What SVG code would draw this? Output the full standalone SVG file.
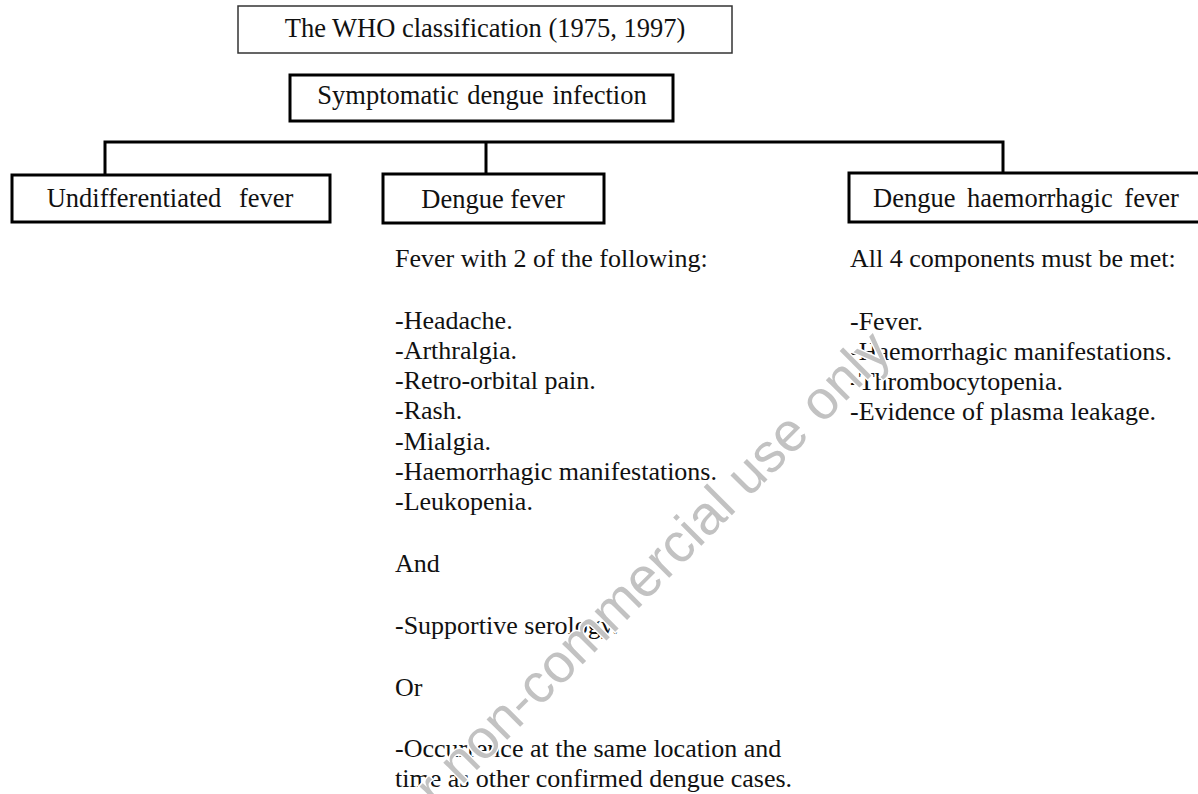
<svg xmlns="http://www.w3.org/2000/svg" width="1198" height="794" viewBox="0 0 1198 794">
<style>
.t{font-family:"Liberation Serif","Times New Roman",serif;font-size:26px;fill:#111}
.b{font-size:26.5px}
.c{text-anchor:middle}
.box{fill:#fff;stroke:#000;stroke-width:3}
.thin{fill:#fff;stroke:#333;stroke-width:1.5}
.wm{font-family:"Liberation Sans",Arial,sans-serif;font-size:55px;fill:#c2c2c2;stroke:#fff;stroke-width:3;paint-order:stroke}
</style>
<rect width="1198" height="794" fill="#fff"/>
<g id="connectors" fill="none" stroke="#000" stroke-width="3">
<path d="M105 175 V142 H1003 V173"/>
<path d="M486 142 V174"/>
</g>
<g id="who">
<rect class="thin" x="238" y="6" width="494" height="47"/>
<text class="t b c" x="485" y="37">The WHO classification (1975, 1997)</text>
</g>
<g id="symptomatic">
<rect class="box" x="290" y="75" width="383" height="46"/>
<text class="t b c" x="482" y="104" word-spacing="2">Symptomatic dengue infection</text>
</g>
<g id="undiff">
<rect class="box" x="12" y="175" width="318" height="47"/>
<text class="t b c" x="170" y="207" word-spacing="11">Undifferentiated fever</text>
</g>
<g id="df">
<rect class="box" x="383" y="174" width="221" height="49"/>
<text class="t b c" x="493" y="208">Dengue fever</text>
<text class="t" x="395" y="267">Fever with 2 of the following:</text>
<text class="t" x="395" y="329">-Headache.</text>
<text class="t" x="395" y="359">-Arthralgia.</text>
<text class="t" x="395" y="389">-Retro-orbital pain.</text>
<text class="t" x="395" y="419">-Rash.</text>
<text class="t" x="395" y="450">-Mialgia.</text>
<text class="t" x="395" y="480">-Haemorrhagic manifestations.</text>
<text class="t" x="395" y="510">-Leukopenia.</text>
<text class="t" x="395" y="572">And</text>
<text class="t" x="395" y="634">-Supportive serology.</text>
<text class="t" x="395" y="696">Or</text>
<text class="t" x="395" y="757">-Occurrence at the same location and</text>
<text class="t" x="395" y="787">time as other confirmed dengue cases.</text>
</g>
<g id="dhf">
<rect class="box" x="849" y="173" width="360" height="49"/>
<text class="t b" x="873" y="207" word-spacing="5">Dengue haemorrhagic fever</text>
<text class="t" x="850" y="267">All 4 components must be met:</text>
<text class="t" x="850" y="330">-Fever.</text>
<text class="t" x="850" y="360">-Haemorrhagic manifestations.</text>
<text class="t" x="850" y="390">-Thrombocytopenia.</text>
<text class="t" x="850" y="420">-Evidence of plasma leakage.</text>
</g>
<text class="wm" x="392" y="855" transform="rotate(-45 392 855)">For non-commercial use only</text>
</svg>
